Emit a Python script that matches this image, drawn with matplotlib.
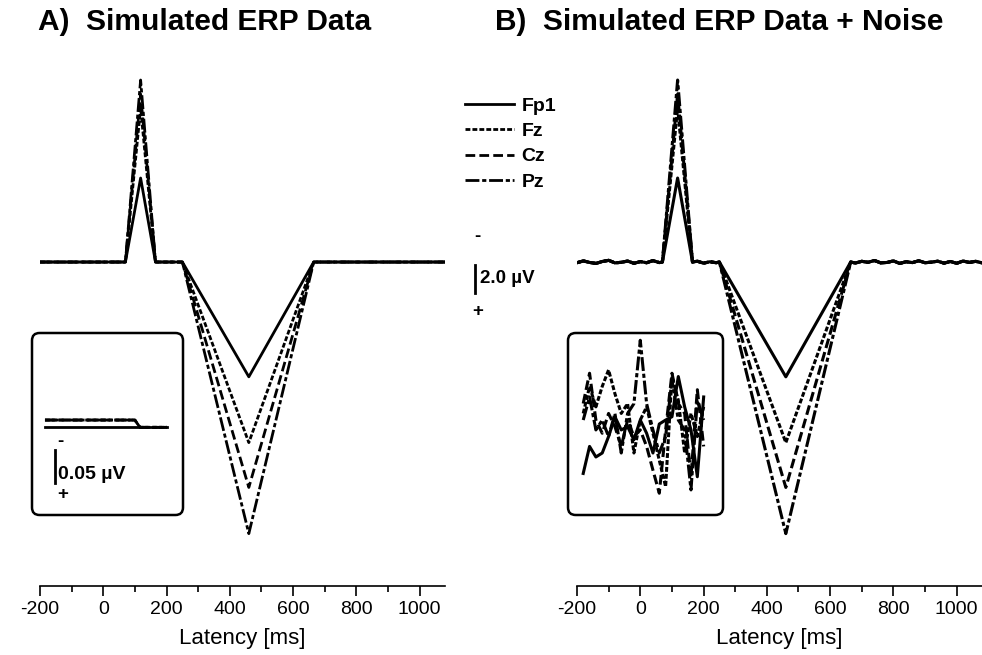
import matplotlib
matplotlib.use('Agg')
import matplotlib.pyplot as plt
import numpy as np
from matplotlib.patches import FancyBboxPatch
from matplotlib.ticker import MultipleLocator

plt.rcParams['font.family'] = ['Liberation Sans', 'DejaVu Sans']
plt.rcParams['axes.unicode_minus'] = False
plt.rcParams['lines.scale_dashes'] = False

# channels and line styles
channels = ['Fp1', 'Fz', 'Cz', 'Pz']
styles = ['-', (0, (3.5, 1.5)), (0, (7, 3)), (0, (10, 2, 3, 2))]

# simulated ERP corner points (ms / uV, negative up)
erp_times = [-200, 70, 118, 165, 250, 460, 665, 1080]
erp_fp1 = [0, 0, -6.0, 0, 0, 8.2, 0, 0]
erp_fz = [0, 0, -11.0, 0, 0, 12.9, 0, 0]
erp_cz = [0, 0, -12.0, 0, 0, 16.1, 0, 0]
erp_pz = [0, 0, -13.0, 0, 0, 19.4, 0, 0]
erps = [erp_fp1, erp_fz, erp_cz, erp_pz]

# noise on the flat parts of panel B (uV)
noise_t_pre = [-200, -180, -160, -140, -120, -100, -80, -60, -40, -20, 0, 20, 40, 60]
noise_pre = [0.05, -0.08, 0.03, 0.10, -0.04, -0.12, 0.06, 0.02, -0.07, 0.09, -0.03, 0.05, -0.10, 0.04]
noise_t_mid = [180, 200, 220, 240]
noise_mid = [-0.06, 0.08, -0.02, 0.05]
noise_t_post = [680, 700, 720, 740, 760, 780, 800, 820, 840, 860, 880, 900, 920, 940,
                960, 980, 1000, 1020, 1040, 1060, 1080]
noise_post = [0.07, -0.05, 0.02, -0.11, 0.06, 0.03, -0.08, 0.10, -0.02, 0.04, -0.09,
              0.05, 0.01, -0.06, 0.08, -0.04, 0.09, -0.07, 0.03, -0.05, 0.06]

# inset A: zoomed baseline of clean data
insetA_t = [-182, 102, 118, 203]
insetA_fp1 = [0.005, 0.005, 0.005, 0.005]
insetA_fz = [-0.006, -0.006, 0.005, 0.005]
insetA_cz = [-0.006, -0.006, 0.005, 0.005]
insetA_pz = [-0.006, -0.006, 0.005, 0.005]
insetA = [insetA_fp1, insetA_fz, insetA_cz, insetA_pz]

# inset B: zoomed baseline of noisy data
insetB_t = [-180, -160, -140, -120, -100, -80, -60, -40, -20, 0,
            20, 40, 60, 80, 100, 120, 140, 160, 180, 200]
insetB_fp1 = [0.075, 0.034, 0.050, 0.044, 0.019, -0.011, 0.009, 0.004, 0.024, -0.006,
              0.014, 0.044, 0.000, -0.006, -0.011, -0.072, -0.026, 0.009, 0.080, -0.041]
insetB_fz = [-0.016, -0.057, -0.026, -0.057, -0.082, -0.046, -0.016, -0.031, 0.044, -0.006,
             -0.026, 0.014, 0.055, 0.095, -0.072, -0.036, 0.044, -0.016, 0.019, -0.026]
insetB_cz = [-0.031, -0.077, -0.006, 0.014, -0.016, 0.004, 0.034, -0.006, 0.019, 0.009,
             0.034, 0.070, 0.105, 0.009, -0.077, -0.031, -0.016, 0.080, -0.052, 0.034]
insetB_pz = [-0.006, -0.041, 0.009, -0.006, 0.019, -0.016, 0.044, -0.016, -0.031, -0.127,
             -0.031, 0.009, 0.044, 0.019, -0.067, -0.006, 0.009, 0.100, -0.036, -0.006]
insetB = [insetB_fp1, insetB_fz, insetB_cz, insetB_pz]

W, H = 982, 655
fig = plt.figure(figsize=(W / 100, H / 100), dpi=100)


def px_axes(x0, y0, x1, y1):
    # axes from pixel box (top-left origin)
    return fig.add_axes([x0 / W, (H - y1) / H, (x1 - x0) / W, (y1 - y0) / H])


def style_main(ax):
    ax.set_xlim(-200, 1080)
    ax.set_ylim(23.14, -14.43)
    for s in ['top', 'right', 'left']:
        ax.spines[s].set_visible(False)
    ax.spines['bottom'].set_linewidth(1.2)
    ax.set_yticks([])
    ax.xaxis.set_major_locator(MultipleLocator(200))
    ax.xaxis.set_minor_locator(MultipleLocator(100))
    ax.tick_params(axis='x', which='major', length=7, width=1.2, labelsize=14, pad=4)
    ax.tick_params(axis='x', which='minor', length=4, width=1.2)
    ax.set_xlabel('Latency [ms]', fontsize=16, labelpad=7)
    ax.patch.set_visible(False)


def inset_box(ax):
    ax.set_axis_off()
    ax.set_ylim(0.138, -0.138)
    box = FancyBboxPatch((0, 0), 1, 1, boxstyle='round,pad=0,rounding_size=0.05',
                         mutation_aspect=0.83, transform=ax.transAxes,
                         facecolor='white', edgecolor='black', linewidth=1.8, clip_on=False)
    ax.add_patch(box)


# panel A
axA = px_axes(40, 60, 445, 586)
style_main(axA)
for i in range(4):
    axA.plot(erp_times, erps[i], color='black', lw=2.0, linestyle=styles[i], label=channels[i])

# panel B
axB = px_axes(577, 60, 982, 586)
style_main(axB)
for i in range(4):
    e = erps[i]
    xb = noise_t_pre + [70, 118, 165] + noise_t_mid + [250, 460, 665] + noise_t_post
    yb = noise_pre + [0, e[2], 0] + noise_mid + [0, e[5], 0] + noise_post
    axB.plot(xb, yb, color='black', lw=2.2, linestyle=styles[i])

# scale bar between the panels
axA.plot([1175, 1175], [0.2, 2.2], color='black', lw=2.0, clip_on=False)
axA.text(1183, -1.8, '-', fontsize=13.5, fontweight='bold', ha='center', va='center')
axA.text(1183, 3.5, '+', fontsize=13.5, fontweight='bold', ha='center', va='center')
axA.text(1192, 1.15, '2.0 µV', fontsize=13.5, fontweight='bold', ha='left', va='center')

# inset A
inA = px_axes(32, 333, 183, 515)
inset_box(inA)
inA.set_xlim(-223, 254)
for i in range(4):
    inA.plot(insetA_t, insetA[i], color='black', lw=2.0, linestyle=styles[i])
inA.plot([-150, -150], [0.040, 0.090], color='black', lw=2.0)
inA.text(-134, 0.027, '-', fontsize=13.5, fontweight='bold', ha='center', va='center')
inA.text(-127, 0.107, '+', fontsize=13.5, fontweight='bold', ha='center', va='center')
inA.text(-142, 0.076, '0.05 µV', fontsize=14, fontweight='bold', ha='left', va='center')

# inset B
inB = px_axes(568, 333, 723, 515)
inset_box(inB)
inB.set_xlim(-228, 261)
for i in range(4):
    inB.plot(insetB_t, insetB[i], color='black', lw=2.2, linestyle=styles[i])

# legend
handles = axA.get_lines()[:4]
fig.legend(handles, channels, loc='upper left', bbox_to_anchor=(465 / W, (H - 97) / H),
           frameon=False, borderpad=0, borderaxespad=0, handlelength=2.5,
           handletextpad=0.4, labelspacing=0.4, prop={'weight': 'bold', 'size': 14})

# titles
fig.text(38 / W, 1 - 22 / H, 'A)  Simulated ERP Data', fontsize=21.5, fontweight='bold',
         ha='left', va='center')
fig.text(495 / W, 1 - 22 / H, 'B)  Simulated ERP Data + Noise', fontsize=21.5,
         fontweight='bold', ha='left', va='center')

fig.savefig('out.png', dpi=100)
